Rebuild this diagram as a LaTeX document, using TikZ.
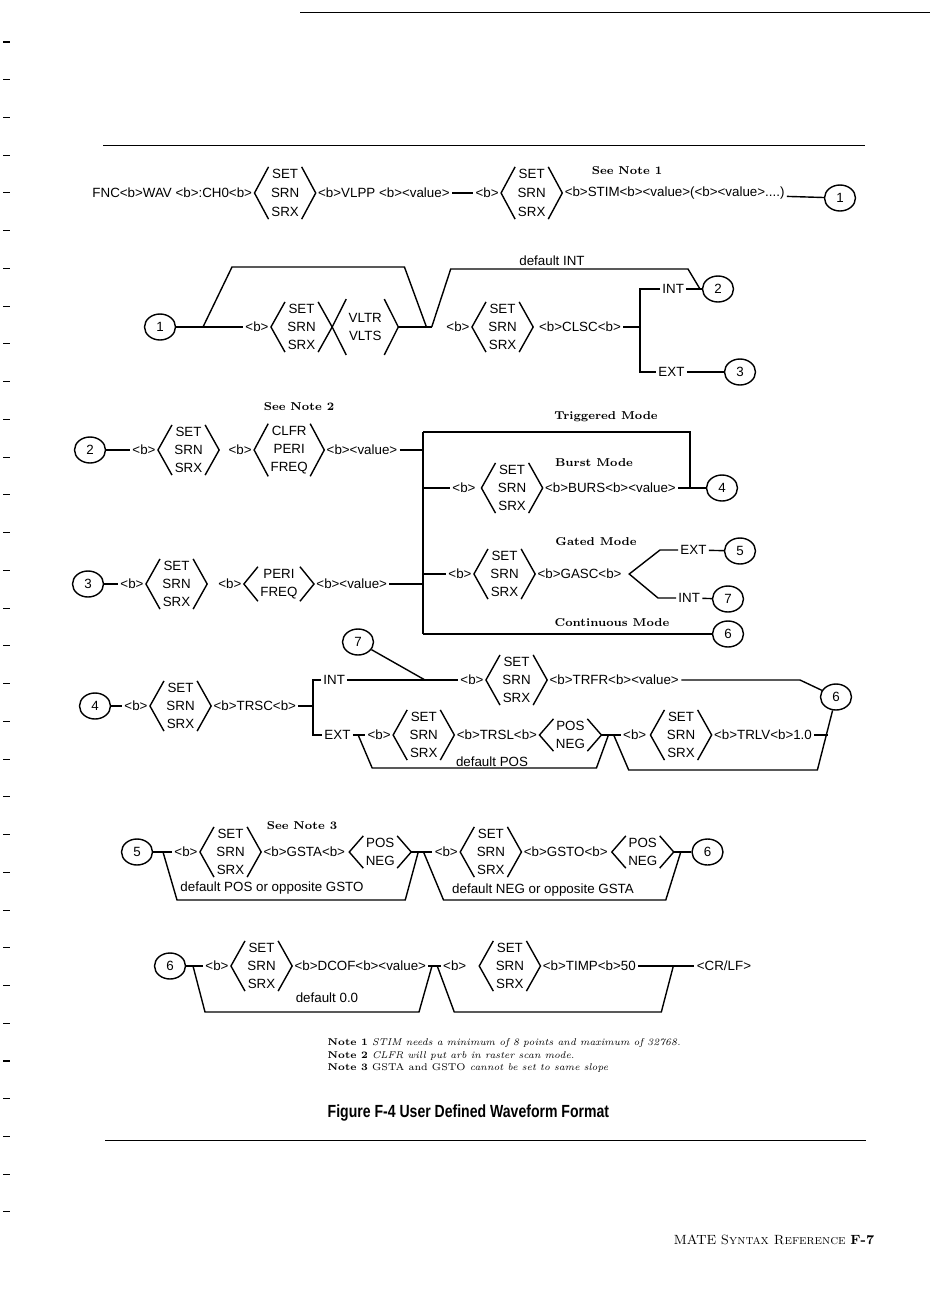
\documentclass[tikz,border=0pt]{standalone}
\usepackage{fontspec}
\newfontfamily\dfam{Liberation Sans}
\newfontfamily\capfam[FakeStretch=0.8]{Liberation Sans}
\usetikzlibrary{positioning,shapes.geometric,calc}
\newcommand{\dsize}{\dfam\fontsize{7.6}{10.2}\selectfont}
% chevrons round a choice node
\newcommand{\chev}[1]{%
  \draw ([xshift=8pt]#1.north west) -- (#1.west) -- ([xshift=8pt]#1.south west);
  \draw ([xshift=-8pt]#1.north east) -- (#1.east) -- ([xshift=-8pt]#1.south east);}
\tikzset{
  txt/.style={font=\dsize, inner sep=1pt, anchor=west},
  opts/.style={font=\dsize, align=center, inner xsep=9pt, inner ysep=1pt},
  rowone/.style={font=\dfam\fontsize{7.6}{10.8}\selectfont},
  conn/.style={draw, ellipse, font=\dsize, minimum width=0.62cm, minimum height=0.52cm, inner sep=0pt},
  hd/.style={font=\bfseries\fontsize{6.5}{8}\selectfont, inner sep=0pt},
  dflt/.style={font=\dsize, inner sep=1pt},
  note/.style={font=\fontsize{5.6}{7}\selectfont, anchor=west, inner sep=0pt},
}
\begin{document}
\begin{tikzpicture}[x=0.02cm, y=-0.02cm, line width=0.8pt]
\useasboundingbox (0,0) rectangle (950,1309);
% page rules and margin marks
\draw[line width=0.5pt] (300,12) -- (930,12);
\draw[line width=0.5pt] (103,145) -- (865,145);
\draw[line width=0.5pt] (105,1140) -- (866,1140);
\foreach \i in {0,...,31}
  \draw[line width=0.6pt] (3,42+37.74*\i) -- (10,42+37.74*\i);

% row 1: FNC ... STIM
\node[txt] (fnc) at (90,193) {FNC<b>WAV <b>:CH0<b>};
\node[opts, rowone, right=0pt of fnc] (s1) {SET\\SRN\\SRX}; \chev{s1}
\node[txt, right=0pt of s1] (vlpp) {<b>VLPP <b><value>};
\node[txt, right=12pt of vlpp] (b1) {<b>};
\draw (vlpp) -- (b1);
\node[opts, rowone, right=0pt of b1] (s2) {SET\\SRN\\SRX}; \chev{s2}
\node[txt, right=0pt of s2] (stim) {<b>STIM<b><value>(<b><value>....)};
\node[hd] at (627,171) {See Note 1};
\node[conn] (c1) at (840,198) {1};
\draw (stim) -- (c1);

% row 2: from 1, VLTR / VLTS and CLSC
\node[conn] (c1b) at (160,327) {1};
\coordinate (j1) at (203,327);
\node[txt] (b2) at (243,327) {<b>};
\draw (c1b) -- (b2);
\node[opts, right=0pt of b2] (s3) {SET\\SRN\\SRX}; \chev{s3}
\node[opts, minimum height=31pt, right=0pt of s3] (vlt) {VLTR\\VLTS}; \chev{vlt}
\coordinate[right=16pt of vlt] (j2);
\coordinate[right=3pt of j2] (j3);
\draw (vlt) -- (j3);
\draw (j1) -- ++(29,-60) -- ($(j2)+(-22,-60)$) -- (j2);
\node[txt, right=7pt of j3] (b3) {<b>};
\node[opts, right=0pt of b3] (s4) {SET\\SRN\\SRX}; \chev{s4}
\node[txt, right=2pt of s4] (clsc) {<b>CLSC<b>};
\coordinate (bus1) at (640,327);
\draw (clsc) -- (bus1);
\node[txt] (int1) at (660,289) {INT};
\node[txt] (ext1) at (656,372) {EXT};
\draw (int1.west) -- (int1.west -| bus1) -- (ext1.west -| bus1) -- (ext1.west);
\node[conn] (c2) at (718,289) {2};
\node[conn] (c3) at (740,372) {3};
\draw (int1) -- (c2);
\draw (ext1) -- (c3);
\draw (j3) -- ++(19,-58) -- (688,269) -- (700,289);
\node[dflt] at (552,261) {default INT};

% row 3: from 2, triggered modes
\node[hd] at (299,407) {See Note 2};
\node[conn] (c2b) at (90,450) {2};
\node[txt] (b4) at (130,450) {<b>};
\draw (c2b) -- (b4);
\node[opts, right=0pt of b4] (s5) {SET\\SRN\\SRX}; \chev{s5}
\node[txt, right=4pt of s5] (b5) {<b>};
\node[opts, right=0pt of b5] (cl) {CLFR\\PERI\\FREQ}; \chev{cl}
\node[txt, right=0pt of cl] (val1) {<b><value>};
\coordinate (bustop) at (423,432);
\coordinate (busbot) at (423,634);
\draw (bustop) -- (busbot);
\draw (val1) -- (val1 -| bustop);
% burst
\node[hd] at (606,417) {Triggered Mode};
\node[hd] at (594,463) {Burst Mode};
\node[txt] (b6) at (450,488) {<b>};
\node[opts, right=2pt of b6] (s6) {SET\\SRN\\SRX}; \chev{s6}
\node[txt, right=0pt of s6] (burs) {<b>BURS<b><value>};
\node[conn] (c4) at (722,488) {4};
\draw (b6 -| bustop) -- (b6);
\draw (burs) -- (c4);
\draw (bustop) -- (690,432) -- (690,488);
% gated
\node[hd] at (596,542) {Gated Mode};
\node[txt] (b7) at (446,574) {<b>};
\node[opts, right=0pt of b7] (s7) {SET\\SRN\\SRX}; \chev{s7}
\node[txt, right=0pt of s7] (gasc) {<b>GASC<b>};
\coordinate[right=3pt of gasc] (fk);
\node[txt] (ext2) at (678,550) {EXT};
\node[txt] (int2) at (676,598) {INT};
\draw (ext2.west) -- ++(-18,0) -- (fk) -- ([xshift=-0.36cm]int2.west) -- (int2.west);
\node[conn] (c5) at (740,551) {5};
\node[conn] (c7) at (728,599) {7};
\draw (ext2) -- (c5);
\draw (int2) -- (c7);
\draw (b7 -| bustop) -- (b7);
% continuous
\node[hd] at (612,623) {Continuous Mode};
\node[conn] (c6) at (728,634) {6};
\draw (busbot) -- (c6);
% from 3
\node[conn] (c3b) at (88,584) {3};
\node[txt] (b8) at (118,584) {<b>};
\draw (c3b) -- (b8);
\node[opts, right=0pt of b8] (s8) {SET\\SRN\\SRX}; \chev{s8}
\node[txt, right=5pt of s8] (b9) {<b>};
\node[opts, right=0pt of b9] (pf) {PERI\\FREQ}; \chev{pf}
\node[txt, right=0pt of pf] (val2) {<b><value>};
\draw (val2) -- (val2 -| bustop);

% row 4: from 4, TRSC
\node[conn] (c7b) at (358,642) {7};
\node[conn] (c4b) at (95,706) {4};
\node[txt] (b10) at (122,706) {<b>};
\draw (c4b) -- (b10);
\node[opts, right=0pt of b10] (s9) {SET\\SRN\\SRX}; \chev{s9}
\node[txt, right=0pt of s9] (trsc) {<b>TRSC<b>};
\coordinate (bus2) at (313,706);
\draw (trsc) -- (bus2);
\node[txt] (int3) at (321,680) {INT};
\node[txt] (ext3) at (322,735) {EXT};
\draw (int3.west) -- (int3.west -| bus2) -- (ext3.west -| bus2) -- (ext3.west);
\node[txt] (b11) at (458,680) {<b>};
\draw (int3) -- (b11);
\draw (c7b) -- (425,680);
\node[opts, right=0pt of b11] (s10) {SET\\SRN\\SRX}; \chev{s10}
\node[txt, right=0pt of s10] (trfr) {<b>TRFR<b><value>};
\node[conn] (c6b) at (836,697) {6};
\draw (trfr) -- (800,680) -- (c6b);
% EXT branch
\coordinate[right=3pt of ext3] (j4);
\node[txt, right=4pt of j4] (b12) {<b>};
\draw (ext3) -- (b12);
\node[opts, right=0pt of b12] (s11) {SET\\SRN\\SRX}; \chev{s11}
\node[txt, right=0pt of s11] (trsl) {<b>TRSL<b>};
\node[opts, right=0pt of trsl] (pn1) {POS\\NEG}; \chev{pn1}
\coordinate[right=4pt of pn1] (j5);
\coordinate[right=3pt of j5] (j6);
\node[txt, right=4pt of j6] (b13) {<b>};
\draw (pn1) -- (b13);
\draw (j4) -- ++(14,33) -- ($(j5)+(-12,33)$) -- (j5);
\node[opts, right=1pt of b13] (s12) {SET\\SRN\\SRX}; \chev{s12}
\node[txt, right=0pt of s12] (trlv) {<b>TRLV<b>1.0};
\coordinate[right=8pt of trlv] (j15);
\draw (trlv) -- (j15);
\draw (j6) -- ++(15,35) -- ($(j15)+(-11,35)$) -- (c6b);
\node[dflt] at (492,762) {default POS};

% row 5: from 5, GSTA / GSTO
\node[hd] at (302,826) {See Note 3};
\node[conn] (c5b) at (137,852) {5};
\coordinate (j7) at (163,852);
\node[txt] (b14) at (172,852) {<b>};
\draw (c5b) -- (b14);
\node[opts, right=0pt of b14] (s13) {SET\\SRN\\SRX}; \chev{s13}
\node[txt, right=0pt of s13] (gsta) {<b>GSTA<b>};
\node[opts, right=1pt of gsta] (pn2) {POS\\NEG}; \chev{pn2}
\coordinate[right=4pt of pn2] (j8);
\coordinate[right=3pt of j8] (j9);
\node[txt, right=5pt of j9] (b15) {<b>};
\draw (pn2) -- (b15);
\node[opts, right=0pt of b15] (s14) {SET\\SRN\\SRX}; \chev{s14}
\node[txt, right=0pt of s14] (gsto) {<b>GSTO<b>};
\node[opts, right=1pt of gsto] (pn3) {POS\\NEG}; \chev{pn3}
\coordinate[right=4pt of pn3] (j10);
\node[conn, right=6pt of j10] (c6c) {6};
\draw (pn3) -- (c6c);
\draw (j7) -- ++(14,48) -- ($(j8)+(-13,48)$) -- (j8);
\draw (j9) -- ++(20,48) -- ($(j10)+(-15,48)$) -- (j10);
\node[dflt] at (272,888) {default POS or opposite GSTO};
\node[dflt] at (543,890) {default NEG or opposite GSTA};

% row 6: from 6, DCOF / TIMP
\node[conn] (c6d) at (170,966) {6};
\coordinate (j11) at (193,966);
\node[txt] (b16) at (203,966) {<b>};
\draw (c6d) -- (b16);
\node[opts, right=0pt of b16] (s15) {SET\\SRN\\SRX}; \chev{s15}
\node[txt, right=0pt of s15] (dcof) {<b>DCOF<b><value>};
\coordinate[right=2pt of dcof] (j12);
\coordinate[right=3pt of j12] (j13);
\node[txt, right=2pt of j13] (b17) {<b>};
\draw (dcof) -- (b17);
\node[opts, right=6pt of b17] (s16) {SET\\SRN\\SRX}; \chev{s16}
\node[txt, right=0pt of s16] (timp) {<b>TIMP<b>50};
\coordinate[right=20pt of timp] (j14);
\node[txt, right=12pt of j14] (crlf) {<CR/LF>};
\draw (timp) -- (crlf);
\draw (j11) -- ++(12,46) -- ($(j12)+(-13,46)$) -- (j12);
\draw (j13) -- ++(17,46) -- ($(j14)+(-12,46)$) -- (j14);
\node[dflt] at (327,998) {default 0.0};

% notes, caption, footer
\node[note] at (327,1043) {\textbf{Note 1} \textit{STIM needs a minimum of 8 points and maximum of 32768.}};
\node[note] at (327,1056) {\textbf{Note 2} \textit{CLFR will put arb in raster scan mode.}};
\node[note] at (327,1068) {\textbf{Note 3} GSTA and GSTO \textit{cannot be set to same slope}};
\node[anchor=west, inner sep=0pt, font=\capfam\bfseries\fontsize{10}{12}\selectfont] at (327,1113) {Figure F-4 User Defined Waveform Format};
\node[anchor=east, inner sep=0pt, font=\fontsize{7.6}{9}\selectfont] at (875,1240) {MATE \textsc{Syntax Reference} \textbf{F-7}};
\end{tikzpicture}
\end{document}
